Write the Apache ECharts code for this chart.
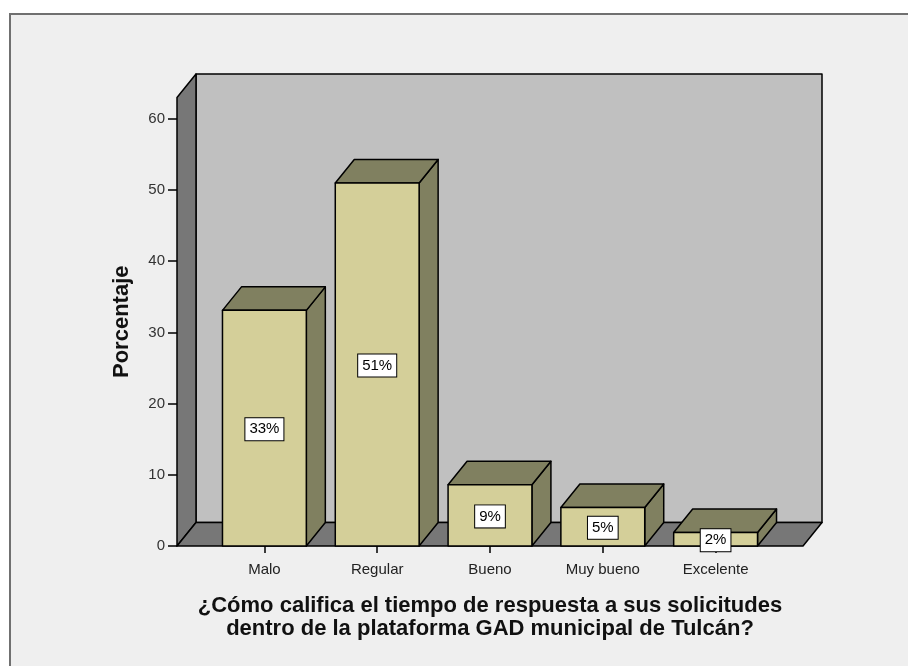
<!DOCTYPE html>
<html>
<head>
<meta charset="utf-8">
<script src="https://cdn.jsdelivr.net/npm/echarts@6/dist/echarts.min.js"></script>
<style>html,body{margin:0;padding:0;background:#fff}#c{width:908px;height:666px}</style>
</head>
<body>
<div id="c"></div>
<script>
const categories = ['Malo', 'Regular', 'Bueno', 'Muy bueno', 'Excelente'];
const percentages = [33.1, 51.0, 8.6, 5.4, 1.9];
const percentLabels = ['33%', '51%', '9%', '5%', '2%'];
const yTicks = [0, 10, 20, 30, 40, 50, 60];
const yMax = 63;
const xTitle = '¿Cómo califica el tiempo de respuesta a sus solicitudes\ndentro de la plataforma GAD municipal de Tulcán?';
const yTitle = 'Porcentaje';

const FONT = '"Liberation Sans", Arial, sans-serif';
const DX = 19, DY = -23.5;      // depth offset of the 3D effect
const AXIS_OFF = 31;            // distance from plot band to wall edges
const BAR_FRAC = 84 / 113;      // bar width as fraction of band
const C_FRONT = '#d4cf99', C_DARK = '#808060';
const C_WALL = '#c0c0c0', C_SIDE = '#777777';

const chart = echarts.init(document.getElementById('c'), null, {renderer: 'canvas'});

function wallsRender(params, api) {
  const cs = params.coordSys;
  const L = cs.x - AXIS_OFF, R = cs.x + cs.width + AXIS_OFF;
  const B = api.coord([0, 0])[1], T = api.coord([0, yMax])[1];
  const st = {stroke: '#000', lineWidth: 1.5, lineJoin: 'round'};
  return {
    type: 'group',
    children: [
      {type: 'polygon', shape: {points: [[L + DX, T + DY], [R + DX, T + DY], [R + DX, B + DY], [L + DX, B + DY]]},
       style: Object.assign({fill: C_WALL}, st)},
      {type: 'polygon', shape: {points: [[L, B], [L, T], [L + DX, T + DY], [L + DX, B + DY]]},
       style: Object.assign({fill: C_SIDE}, st)},
      {type: 'polygon', shape: {points: [[L, B], [R, B], [R + DX, B + DY], [L + DX, B + DY]]},
       style: Object.assign({fill: C_SIDE}, st)}
    ]
  };
}

function barRender(params, api) {
  const idx = api.value(0), v = api.value(1);
  const base = api.coord([idx, 0]), top = api.coord([idx, v]);
  const bw = api.size([1, 0])[0] * BAR_FRAC;
  const x0 = base[0] - bw / 2, x1 = base[0] + bw / 2;
  const yt = top[1], yb = base[1];
  const st = {stroke: '#000', lineWidth: 1.5, lineJoin: 'round'};
  return {
    type: 'group',
    children: [
      {type: 'polygon', shape: {points: [[x1, yt], [x1 + DX, yt + DY], [x1 + DX, yb + DY], [x1, yb]]},
       style: Object.assign({fill: C_DARK}, st)},
      {type: 'polygon', shape: {points: [[x0, yt], [x0 + DX, yt + DY], [x1 + DX, yt + DY], [x1, yt]]},
       style: Object.assign({fill: C_DARK}, st)},
      {type: 'rect', shape: {x: x0, y: yt, width: bw, height: yb - yt},
       style: Object.assign({fill: C_FRONT}, st)},
      {type: 'text', x: base[0], y: (yt + yb) / 2 + 1, z2: 10,
       style: {text: percentLabels[params.dataIndex], fill: '#000', font: '15px ' + FONT,
               align: 'center', verticalAlign: 'middle', backgroundColor: '#fff',
               borderColor: '#000', borderWidth: 1, padding: [4, 4, 3, 4]}}
    ]
  };
}

chart.setOption({
  backgroundColor: '#ffffff',
  animation: false,
  graphic: [{type: 'rect', z: -10, shape: {x: 10, y: 14, width: 1000, height: 1000},
             style: {fill: '#efefef', stroke: '#707070', lineWidth: 2}}],
  grid: {left: 208, right: 136, top: 97.5, bottom: 120},
  xAxis: {
    type: 'category', data: categories,
    axisLine: {show: false},
    axisTick: {show: true, alignWithLabel: true, length: 7, lineStyle: {color: '#000', width: 1.5}},
    axisLabel: {margin: 16, fontSize: 15, fontFamily: FONT, color: '#222'},
    name: xTitle, nameLocation: 'middle', nameGap: 48,
    nameTextStyle: {fontSize: 22, fontWeight: 'bold', fontFamily: FONT, color: '#111', lineHeight: 23}
  },
  yAxis: {
    type: 'value', min: 0, max: yMax, offset: AXIS_OFF,
    splitLine: {show: false},
    axisLine: {show: false},
    axisTick: {show: true, length: 9, customValues: yTicks, lineStyle: {color: '#000', width: 1.5}},
    axisLabel: {customValues: yTicks, margin: 12, fontSize: 15, fontFamily: FONT, color: '#333'},
    name: yTitle, nameLocation: 'middle', nameGap: 44, nameRotate: 90,
    nameTextStyle: {fontSize: 22, fontWeight: 'bold', fontFamily: FONT, color: '#111'}
  },
  series: [
    {type: 'custom', z: 1, clip: false, renderItem: wallsRender, data: [[0, 0]], silent: true},
    {type: 'custom', z: 2, clip: false, renderItem: barRender,
     data: percentages.map((v, i) => [i, v])}
  ]
});
</script>
</body>
</html>
